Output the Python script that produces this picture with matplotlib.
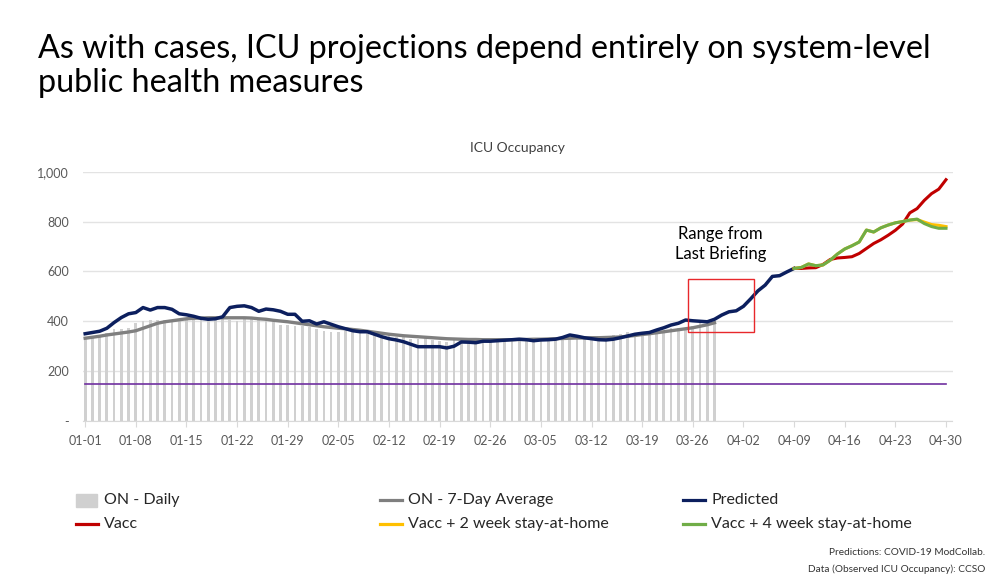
import matplotlib
matplotlib.use("Agg")
import matplotlib.pyplot as plt
import numpy as np
import pandas as pd
from matplotlib.patches import Rectangle
from matplotlib.lines import Line2D
from matplotlib.patches import Patch

plt.rcParams["font.family"] = ["Lato", "DejaVu Sans"]

# days since 01-01
dates = pd.date_range("2021-01-01", periods=120)
date_labels = [d.strftime("%m-%d") for d in dates]
tick_days = list(range(0, 120, 7))

on_daily = [330, 340, 345, 352, 368, 370, 375, 395, 400, 405, 405, 405, 400, 410, 412, 408,
            410, 405, 412, 418, 405, 400, 410, 412, 408, 405, 400, 385, 385, 382, 380, 378,
            368, 360, 355, 355, 360, 371, 365, 355, 350, 340, 345, 335, 338, 330, 328, 335,
            325, 320, 318, 325, 330, 328, 322, 330, 325, 332, 320, 325, 322, 330, 328, 325,
            333, 330, 335, 328, 332, 340, 338, 340, 336, 345, 348, 355, 352, 358, 360, 355,
            362, 372, 375, 368, 380, 392, 398, 400]

on_7day = [332, 336, 340, 345, 349, 353, 357, 362, 372, 382, 392, 398, 402, 406, 410, 412,
           413, 414, 414, 414, 414, 414, 414, 413, 410, 408, 404, 401, 398, 394, 390, 386,
           382, 378, 375, 372, 370, 367, 364, 360, 356, 352, 348, 345, 342, 340, 338, 336,
           334, 332, 330, 329, 328, 327, 327, 326, 326, 326, 326, 326, 327, 327, 328, 328,
           329, 330, 331, 332, 333, 333, 334, 334, 335, 336, 337, 340, 343, 347, 350, 354,
           358, 362, 366, 370, 374, 380, 386, 394]

predicted = [350, 355, 360, 372, 395, 415, 430, 435, 455, 445, 455, 455, 448, 430, 426, 420,
             412, 408, 410, 418, 455, 460, 462, 455, 440, 449, 446, 440, 428, 428, 400, 402,
             389, 398, 388, 378, 370, 362, 358, 358, 348, 338, 330, 325, 318, 308, 298, 298,
             298, 298, 293, 300, 317, 316, 314, 320, 320, 322, 324, 326, 328, 326, 322, 325,
             326, 328, 335, 345, 340, 334, 330, 326, 325, 328, 334, 341, 348, 352, 355, 365,
             374, 385, 392, 405, 402, 400, 398, 408, 425, 438, 442, 460, 490, 522, 545, 580,
             583, 598, 612]

# scenarios start at day 98 (04-09)
vacc = [612, 612, 614, 615, 628, 648, 654, 656, 659, 672, 692, 712, 727, 745, 765, 790,
        835, 852, 885, 912, 930, 968]
vacc_2wk = [612, 616, 630, 623, 626, 645, 670, 690, 703, 718, 766, 758, 775, 786, 795, 800,
            806, 808, 798, 788, 785, 780]
vacc_4wk = [612, 616, 630, 623, 626, 645, 670, 690, 703, 718, 766, 758, 775, 786, 795, 800,
            806, 810, 792, 780, 773, 773]

capacity_line = 150
briefing_box = (83.4, 92.4, 356, 570)  # day from, day to, low, high

obs_days = np.arange(len(on_daily))
pred_days = np.arange(len(predicted))
scen_days = np.arange(98, 98 + len(vacc))

fig = plt.figure(figsize=(10, 5.77), dpi=100)
ax = fig.add_axes([0.083, 0.2704, 0.8695, 0.432])

ax.bar(obs_days, on_daily, width=0.38, color="#d0d0d0", zorder=2)
ax.plot([0, 119], [capacity_line, capacity_line], color="#7030a0", lw=1.2, zorder=3)
ax.plot(obs_days, on_7day, color="#7f7f7f", lw=2.4, zorder=4)
ax.plot(pred_days, predicted, color="#0c1f5e", lw=2.5, zorder=5)
ax.plot(scen_days, vacc, color="#c00000", lw=2.2, zorder=5)
ax.plot(scen_days, vacc_2wk, color="#ffc000", lw=2.2, zorder=6)
ax.plot(scen_days, vacc_4wk, color="#70ad47", lw=2.2, zorder=7)

x0, x1, y0, y1 = briefing_box
ax.add_patch(Rectangle((x0, y0), x1 - x0, y1 - y0, fill=False, edgecolor="#e8282b", lw=1.0, zorder=8))
ax.text(87.8, 710, "Range from\nLast Briefing", ha="center", va="center", fontsize=12,
        color="black", linespacing=1.35)

ax.set_xlim(-0.3, 119.9)
ax.set_ylim(0, 1000)
ax.set_yticks([0, 200, 400, 600, 800, 1000])
ax.set_yticklabels(["-", "200", "400", "600", "800", "1,000"])
ax.set_xticks(tick_days)
ax.set_xticklabels([date_labels[d] for d in tick_days])
ax.grid(axis="y", color="#e3e3e3", lw=1, zorder=0)
ax.set_axisbelow(True)
for s in ["top", "right", "left"]:
    ax.spines[s].set_visible(False)
ax.spines["bottom"].set_color("#d9d9d9")
ax.tick_params(axis="y", length=0, labelsize=9, colors="#595959", pad=10)
ax.tick_params(axis="x", length=4, color="#d9d9d9", labelsize=9, labelcolor="#595959", pad=6)
ax.set_title("ICU Occupancy", fontsize=10, color="#404040", pad=14)

fig.text(0.038, 0.886, "As with cases, ICU projections depend entirely on system-level\npublic health measures",
         fontsize=23.3, color="black", va="center", ha="left", linespacing=1.15)

handles = [
    Patch(color="#d0d0d0", label="ON - Daily"),
    Line2D([], [], color="#7f7f7f", lw=2.3, label="ON - 7-Day Average"),
    Line2D([], [], color="#0c1f5e", lw=2.3, label="Predicted"),
    Line2D([], [], color="#c00000", lw=2.3, label="Vacc"),
    Line2D([], [], color="#ffc000", lw=2.3, label="Vacc + 2 week stay-at-home"),
    Line2D([], [], color="#70ad47", lw=2.3, label="Vacc + 4 week stay-at-home"),
]
col_x = [0.076, 0.380, 0.683]
row_y = [0.133, 0.092]
for i, h in enumerate(handles):
    cx = col_x[i % 3]
    ry = row_y[i // 3]
    if isinstance(h, Patch):
        fig.patches.append(Rectangle((cx, ry - 0.011), 0.021, 0.022, transform=fig.transFigure,
                                     color=h.get_facecolor(), figure=fig))
    else:
        fig.lines.append(Line2D([cx, cx + 0.022], [ry, ry], transform=fig.transFigure,
                                color=h.get_color(), lw=2.3, figure=fig))
    fig.text(cx + 0.028, ry, h.get_label(), fontsize=11.5, color="#262626", va="center", ha="left")

fig.text(0.985, 0.042, "Predictions: COVID-19 ModCollab.", fontsize=7.3, color="#333333", ha="right", va="center")
fig.text(0.985, 0.014, "Data (Observed ICU Occupancy): CCSO", fontsize=7.3, color="#333333", ha="right", va="center")

fig.savefig("out.png", dpi=100)
